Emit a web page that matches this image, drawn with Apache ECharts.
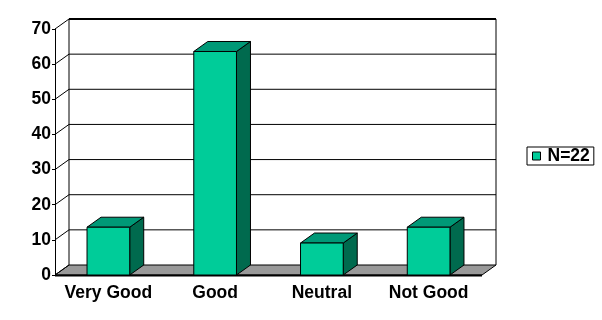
<!DOCTYPE html>
<html><head><meta charset="utf-8">
<script src="https://cdn.jsdelivr.net/npm/echarts@6/dist/echarts.min.js"></script>
<style>html,body{margin:0;padding:0;background:#fff}#c{width:602px;height:320px}</style>
</head><body><div id="c"></div>
<script>
var categories = ['Very Good', 'Good', 'Neutral', 'Not Good'];
var values = [13.6, 63.6, 9.1, 13.6];
var seriesName = 'N=22';
var yTicks = [0, 10, 20, 30, 40, 50, 60, 70];

var DX = 14, DY = -10;
var FONT = 'Liberation Sans, Arial, sans-serif';
var FS = 17.5;
var chart = echarts.init(document.getElementById('c'), null, {renderer: 'canvas'});

function wallRender(params, api) {
  var cs = params.coordSys;
  var x0 = cs.x, x1 = cs.x + cs.width;
  var children = [];
  var yb = api.coord([0, yTicks[0]])[1];
  var yt = api.coord([0, yTicks[yTicks.length - 1]])[1];
  children.push({type: 'polygon', shape: {points: [[x0, yb], [x1, yb], [x1 + DX, yb + DY], [x0 + DX, yb + DY]]},
    style: {fill: '#999999', stroke: '#000', lineWidth: 1}});
  children.push({type: 'line', shape: {x1: x0, y1: yb + 0.5, x2: x1, y2: yb + 0.5}, style: {stroke: '#000', lineWidth: 2}});
  for (var i = 0; i < yTicks.length; i++) {
    var y = api.coord([0, yTicks[i]])[1];
    var last = i === yTicks.length - 1;
    if (i > 0) {
      children.push({type: 'line', shape: {x1: x0 + DX, y1: y + DY, x2: x1 + DX, y2: y + DY},
        style: {stroke: '#000', lineWidth: last ? 2 : 1}});
    }
    children.push({type: 'line', shape: {x1: x0, y1: y, x2: x0 + DX, y2: y + DY}, style: {stroke: '#000', lineWidth: 1}});
  }
  children.push({type: 'line', shape: {x1: x0 + DX, y1: yt + DY, x2: x0 + DX, y2: yb + DY}, style: {stroke: '#000', lineWidth: 1}});
  children.push({type: 'line', shape: {x1: x1 + DX, y1: yt + DY, x2: x1 + DX, y2: yb + DY}, style: {stroke: '#000', lineWidth: 1}});
  return {type: 'group', children: children, silent: true};
}

function barRender(params, api) {
  var idx = api.value(0), v = api.value(1);
  var top = api.coord([idx, v]);
  var bot = api.coord([idx, 0]);
  var w = api.size([1, 0])[0] * 0.4;
  var xl = top[0] - w / 2, xr = top[0] + w / 2, yt = top[1], yb = bot[1];
  return {type: 'group', children: [
    {type: 'polygon', shape: {points: [[xr, yt], [xr + DX, yt + DY], [xr + DX, yb + DY], [xr, yb]]},
      style: {fill: '#006a4e', stroke: '#000', lineWidth: 1}},
    {type: 'polygon', shape: {points: [[xl, yt], [xr, yt], [xr + DX, yt + DY], [xl + DX, yt + DY]]},
      style: {fill: '#009977', stroke: '#000', lineWidth: 1}},
    {type: 'rect', shape: {x: xl, y: yt, width: w, height: yb - yt},
      style: {fill: '#00cc99', stroke: '#000', lineWidth: 1}}
  ]};
}

chart.setOption({
  animation: false,
  backgroundColor: '#fff',
  grid: {left: 55, right: 120, top: 29, bottom: 45, containLabel: false},
  legend: {
    data: [seriesName], left: 527, top: 147, orient: 'vertical',
    borderColor: '#000', borderWidth: 1, padding: [0, 4, 0, 5],
    icon: 'rect', itemWidth: 8, itemHeight: 8, itemGap: 0,
    itemStyle: {color: '#00cc99', borderColor: '#000', borderWidth: 1},
    textStyle: {fontFamily: FONT, fontWeight: 'bold', fontSize: FS, color: '#000', padding: [0, 0, 0, 2]}
  },
  xAxis: {
    type: 'category', data: categories,
    axisLine: {show: false}, axisTick: {show: false}, splitLine: {show: false},
    axisLabel: {interval: 0, hideOverlap: false, fontFamily: FONT, fontWeight: 'bold', fontSize: FS, color: '#000', margin: 9}
  },
  yAxis: {
    type: 'value', min: 0, max: 70, interval: 10,
    axisLine: {show: true, lineStyle: {color: '#000', width: 1}},
    axisTick: {show: true, length: 3, lineStyle: {color: '#000'}},
    splitLine: {show: false},
    axisLabel: {fontFamily: FONT, fontWeight: 'bold', fontSize: FS, color: '#000', margin: 4}
  },
  series: [
    {type: 'custom', name: '_wall', renderItem: wallRender, data: [[0, 0]], z: 1, silent: true},
    {type: 'custom', name: seriesName, renderItem: barRender, itemStyle: {color: '#00cc99'},
      data: values.map(function (v, i) { return [i, v]; }), z: 2}
  ]
});
</script></body></html>
